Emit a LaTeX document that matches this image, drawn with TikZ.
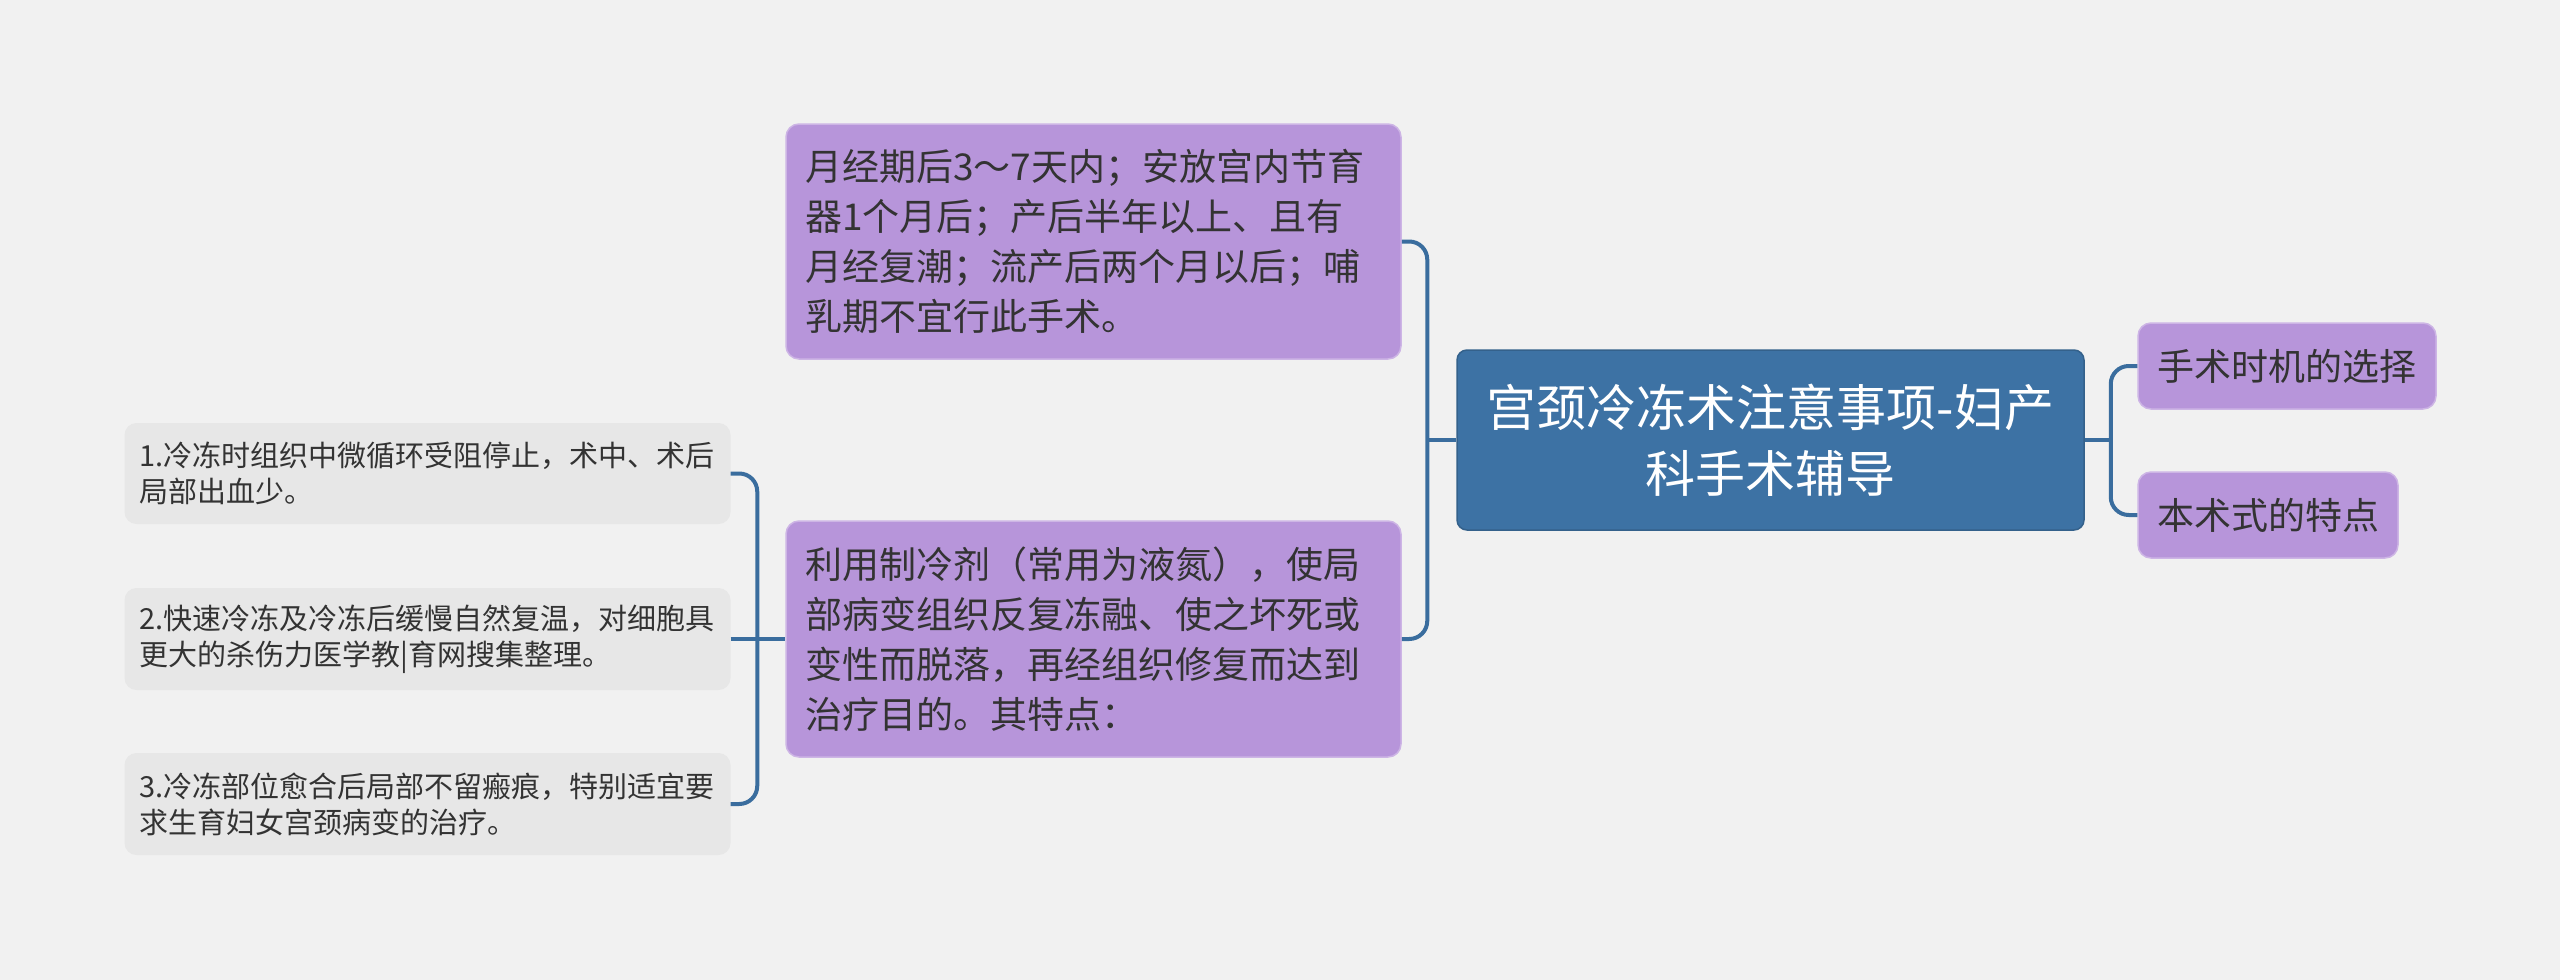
\documentclass[tikz,border=0pt]{standalone}
\usepackage{fontspec}
\setmainfont{Noto Sans CJK SC}
\usetikzlibrary{positioning}
\definecolor{bgc}{HTML}{F1F1F1}
\definecolor{rootc}{HTML}{3D72A4}
\definecolor{purc}{HTML}{B795DA}
\definecolor{greyc}{HTML}{E7E7E7}
\definecolor{linec}{HTML}{3A6D9E}
\definecolor{txtc}{HTML}{333333}
\begin{document}
\begin{tikzpicture}[x=1pt,y=-1pt,
    rootbox/.style={fill=rootc, draw=rootc!85!black, line width=1.5pt, rounded corners=10pt,
        text=white, align=center, inner sep=0pt, font=\fontsize{50}{66}\selectfont},
    purbox/.style={fill=purc, draw=purc!70!white, line width=1.5pt, rounded corners=13pt,
        text=txtc, align=left, inner xsep=19pt, inner ysep=0pt, font=\fontsize{37}{50}\selectfont},
    greybox/.style={fill=greyc, rounded corners=12pt, text=txtc, align=left,
        inner xsep=15pt, inner ysep=0pt, font=\fontsize{29}{36}\selectfont},
    conn/.style={draw=linec, line width=4pt, rounded corners=18pt}]
    \useasboundingbox (0,0) rectangle (2560,980);
    \fill[bgc] (0,0) rectangle (2560,980);
    % main topic
    \node[rootbox, minimum width=627pt, minimum height=180pt] (root) at (1770.5,440) {宫颈冷冻术注意事项-妇产\\科手术辅导};
    % left branch
    \node[purbox, text width=577pt, minimum height=235pt] (when) at (1093.5,241.5) {月经期后3～7天内；安放宫内节育\\器1个月后；产后半年以上、且有\\月经复潮；流产后两个月以后；哺\\乳期不宜行此手术。};
    \node[purbox, text width=577pt, minimum height=236pt] (how) at (1093.5,639) {利用制冷剂（常用为液氮），使局\\部病变组织反复冻融、使之坏死或\\变性而脱落，再经组织修复而达到\\治疗目的。其特点：};
    % features
    \node[greybox, text width=576pt, minimum height=101pt] (feat1) at (427.5,473.5) {1.冷冻时组织中微循环受阻停止，术中、术后\\局部出血少。};
    \node[greybox, text width=576pt, minimum height=102pt] (feat2) at (427.5,639) {2.快速冷冻及冷冻后缓慢自然复温，对细胞具\\更大的杀伤力医学教|育网搜集整理。};
    \node[greybox, text width=576pt, minimum height=102pt] (feat3) at (427.5,804) {3.冷冻部位愈合后局部不留瘢痕，特别适宜要\\求生育妇女宫颈病变的治疗。};
    % right branch
    \node[purbox, text width=260pt, minimum height=86pt] (timing) at (2287,366) {手术时机的选择};
    \node[purbox, text width=222pt, minimum height=86pt] (traits) at (2268,515) {本术式的特点};
    % connectors
    \coordinate[left=29pt of root.west] (rootL);
    \coordinate[right=26pt of root.east] (rootR);
    \coordinate[left=28pt of how.west] (howL);
    \draw[conn] (root.west) -- (rootL);
    \draw[conn] (when.east) -| (rootL) |- (how.east);
    \draw[conn] (root.east) -- (rootR);
    \draw[conn] (timing.west) -| (rootR) |- (traits.west);
    \draw[conn] (feat2.east) -- (how.west);
    \draw[conn] (feat1.east) -| (howL) |- (feat3.east);
\end{tikzpicture}
\end{document}
